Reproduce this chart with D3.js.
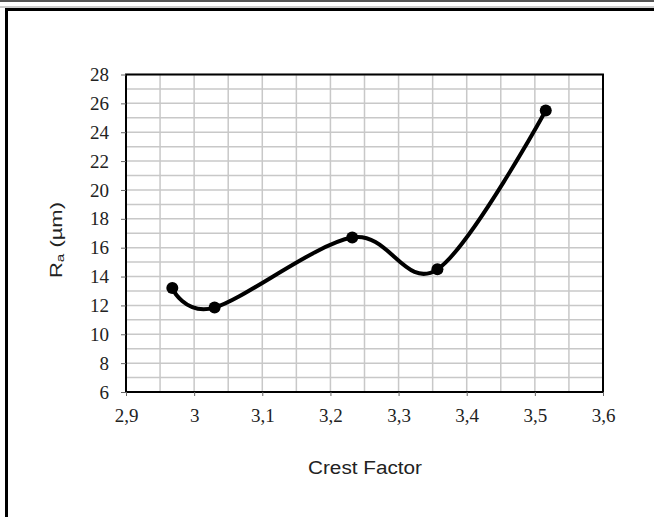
<!DOCTYPE html>
<html>
<head>
<meta charset="utf-8">
<script src="https://cdn.jsdelivr.net/npm/d3@7"></script>
<style>
  body { margin: 0; background: #fff; }
</style>
</head>
<body>
<script>
var crestFactor = [2.968, 3.030, 3.232, 3.357, 3.516];
var roughness = [13.2, 11.85, 16.7, 14.5, 25.5];
var xTicks = [2.9, 3.0, 3.1, 3.2, 3.3, 3.4, 3.5, 3.6];
var yTicks = [6, 8, 10, 12, 14, 16, 18, 20, 22, 24, 26, 28];

var screen = { width: 654, height: 517 };
var margins = { top: 74.5, left: 126, bottom: 125, right: 51 };
var width = screen.width - margins.left - margins.right;
var height = 392 - margins.top;

var svg = d3.select('body')
            .append('svg')
            .attr('width', screen.width)
            .attr('height', screen.height);

// page decoration: gray rule on top and the frame round the chart
svg.append('rect').attr('x', 0).attr('y', 0).attr('width', screen.width).attr('height', 2).attr('fill', '#555');
svg.append('rect').attr('x', 0).attr('y', 6).attr('width', screen.width).attr('height', 2).attr('fill', '#ccc');
svg.append('path')
   .attr('d', 'M6.5,' + (screen.height + 5) + 'V9.5H' + (screen.width + 5))
   .attr('fill', 'none')
   .attr('stroke', '#000')
   .attr('stroke-width', 3);

var xScale = d3.scaleLinear().domain([2.9, 3.6]).range([0, width]);
var yScale = d3.scaleLinear().domain([6, 28]).range([height, 0]);

var plot = svg.append('g')
              .attr('transform', 'translate(' + margins.left + ',' + margins.top + ')');

// gridlines (minor every 0.05 / 1)
plot.append('g')
    .selectAll('line')
    .data(d3.range(0, 15).map(function(i){ return 2.9 + i * 0.05; }))
    .enter()
    .append('line')
    .attr('x1', function(d){ return xScale(d); })
    .attr('x2', function(d){ return xScale(d); })
    .attr('y1', 0)
    .attr('y2', height)
    .attr('stroke', '#c8c8c8')
    .attr('stroke-width', 1.5);
plot.append('g')
    .selectAll('line')
    .data(d3.range(6, 29))
    .enter()
    .append('line')
    .attr('y1', function(d){ return yScale(d); })
    .attr('y2', function(d){ return yScale(d); })
    .attr('x1', 0)
    .attr('x2', width)
    .attr('stroke', '#c8c8c8')
    .attr('stroke-width', 1.5);

plot.append('rect')
    .attr('width', width)
    .attr('height', height)
    .attr('fill', 'none')
    .attr('stroke', '#000')
    .attr('stroke-width', 2);

var fmt = function(d){ return d3.format('.1~f')(d).replace('.', ','); };

var xAxis = d3.axisBottom(xScale).tickValues(xTicks).tickFormat(fmt).tickSize(4).tickPadding(13);
var yAxis = d3.axisLeft(yScale).tickValues(yTicks).tickSize(5).tickPadding(12);

var styleAxis = function(g){
  g.select('.domain').remove();
  g.selectAll('line').attr('stroke', '#666');
  g.attr('font-family', null).attr('font-size', null);
  g.selectAll('text')
   .style('font-family', '"Liberation Serif", "Times New Roman", serif')
   .style('font-size', '19px')
   .style('fill', '#222');
};

plot.append('g')
    .attr('transform', 'translate(0,' + height + ')')
    .call(xAxis)
    .call(styleAxis);
plot.append('g')
    .call(yAxis)
    .call(styleAxis);

var points = crestFactor.map(function(x, i){ return [x, roughness[i]]; });

var line = d3.line()
             .x(function(d){ return xScale(d[0]); })
             .y(function(d){ return yScale(d[1]); })
             .curve(d3.curveCardinal.tension(0));

plot.append('path')
    .datum(points)
    .attr('d', line)
    .attr('fill', 'none')
    .attr('stroke', '#000')
    .attr('stroke-width', 4);

plot.selectAll('circle')
    .data(points)
    .enter()
    .append('circle')
    .attr('cx', function(d){ return xScale(d[0]); })
    .attr('cy', function(d){ return yScale(d[1]); })
    .attr('r', 6)
    .attr('fill', '#000');

svg.append('text')
   .attr('x', 308)
   .attr('y', 474)
   .attr('textLength', 114)
   .attr('lengthAdjust', 'spacingAndGlyphs')
   .style('font-family', '"Liberation Sans", Arial, sans-serif')
   .style('font-size', '18px')
   .attr('fill', '#222')
   .text('Crest Factor');

var yl = svg.append('text')
   .attr('transform', 'translate(62,278) rotate(-90)')
   .attr('textLength', 76)
   .attr('lengthAdjust', 'spacingAndGlyphs')
   .style('font-family', '"Liberation Sans", Arial, sans-serif')
   .style('font-size', '16px')
   .attr('fill', '#222');
yl.append('tspan').text('R');
yl.append('tspan').style('font-size', '11px').attr('dy', 2).text('a');
yl.append('tspan').attr('dy', -2).text(' (\u00b5m)');
</script>
</body>
</html>
